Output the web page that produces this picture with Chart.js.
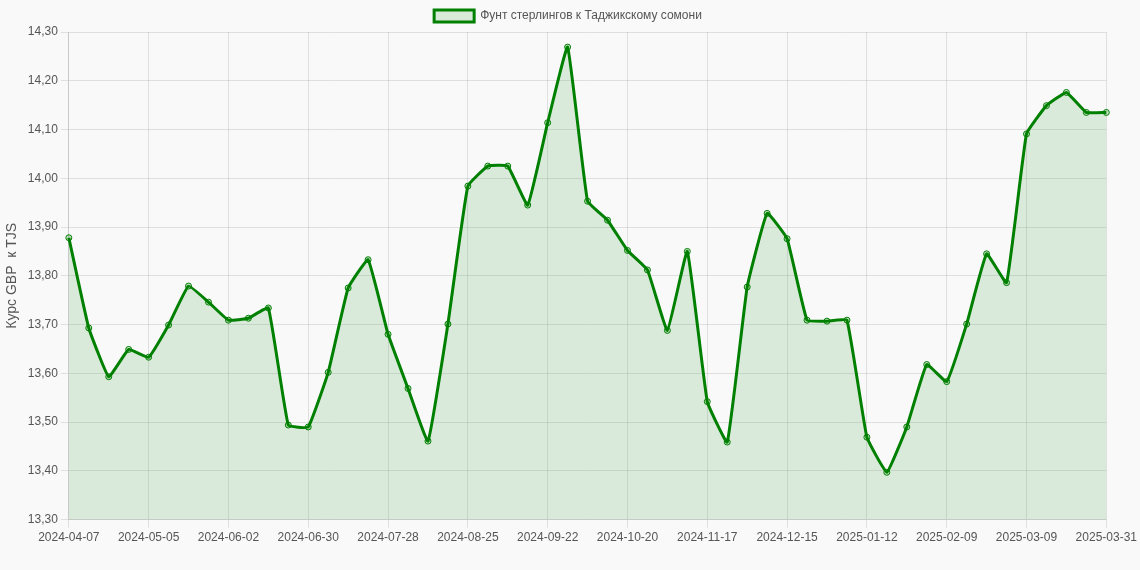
<!DOCTYPE html>
<html>
<head>
<meta charset="utf-8">
<script src="https://cdn.jsdelivr.net/npm/chart.js@4"></script>
<style>
  html, body { margin: 0; padding: 0; background: #f9f9f9; }
  #wrap { width: 1140px; height: 570px; }
</style>
</head>
<body>
<div id="wrap"><canvas id="rateChart"></canvas></div>
<script>
// даты (еженедельно) и курс GBP/TJS
const dates = [
  '2024-04-07','2024-04-14','2024-04-21','2024-04-28','2024-05-05','2024-05-12','2024-05-19','2024-05-26',
  '2024-06-02','2024-06-09','2024-06-16','2024-06-23','2024-06-30','2024-07-07','2024-07-14','2024-07-21',
  '2024-07-28','2024-08-04','2024-08-11','2024-08-18','2024-08-25','2024-09-01','2024-09-08','2024-09-15',
  '2024-09-22','2024-09-29','2024-10-06','2024-10-13','2024-10-20','2024-10-27','2024-11-03','2024-11-10',
  '2024-11-17','2024-11-24','2024-12-01','2024-12-08','2024-12-15','2024-12-22','2024-12-29','2025-01-05',
  '2025-01-12','2025-01-19','2025-01-26','2025-02-02','2025-02-09','2025-02-16','2025-02-23','2025-03-02',
  '2025-03-09','2025-03-16','2025-03-23','2025-03-30','2025-03-31'
];
const rates = [
  13.878, 13.693, 13.593, 13.649, 13.633, 13.699, 13.779, 13.746,
  13.709, 13.713, 13.734, 13.494, 13.490, 13.602, 13.775, 13.833,
  13.680, 13.569, 13.461, 13.701, 13.984, 14.025, 14.025, 13.945,
  14.114, 14.269, 13.953, 13.914, 13.852, 13.812, 13.688, 13.850,
  13.542, 13.459, 13.777, 13.928, 13.876, 13.709, 13.707, 13.709,
  13.469, 13.397, 13.490, 13.618, 13.583, 13.701, 13.845, 13.786,
  14.091, 14.149, 14.176, 14.135, 14.135
];

Chart.defaults.font.family = '"Liberation Sans", Arial, sans-serif';
Chart.defaults.font.size = 12;
Chart.defaults.color = '#555';

const showTick = i => i % 4 === 0 || i === dates.length - 1;

const ctx = document.getElementById('rateChart');
new Chart(ctx, {
  type: 'line',
  data: {
    labels: dates,
    datasets: [{
      label: 'Фунт стерлингов к Таджикскому сомони',
      data: rates,
      borderColor: 'green',
      backgroundColor: 'rgba(0, 128, 0, 0.12)',
      borderWidth: 3,
      fill: true,
      tension: 0.1,
      pointRadius: 3,
      pointBorderWidth: 1,
      pointBackgroundColor: 'rgba(0, 128, 0, 0.2)',
      pointBorderColor: 'green'
    }]
  },
  options: {
    responsive: true,
    maintainAspectRatio: false,
    animation: false,
    layout: { padding: { left: 0, right: 4, bottom: 22 } },
    plugins: {
      legend: { position: 'top', labels: { boxWidth: 40 } }
    },
    scales: {
      x: {
        grid: { color: c => showTick(c.index) ? 'rgba(0,0,0,0.1)' : 'rgba(0,0,0,0)' },
        ticks: {
          autoSkip: false,
          maxRotation: 0,
          callback: (v, i) => showTick(i) ? dates[i] : ''
        }
      },
      y: {
        min: 13.3,
        max: 14.3,
        grid: { color: 'rgba(0,0,0,0.1)' },
        ticks: {
          stepSize: 0.1,
          callback: v => v.toFixed(2).replace('.', ',')
        },
        title: { display: true, text: 'Курс GBP  к TJS', font: { size: 14 } }
      }
    }
  }
});
</script>
</body>
</html>
